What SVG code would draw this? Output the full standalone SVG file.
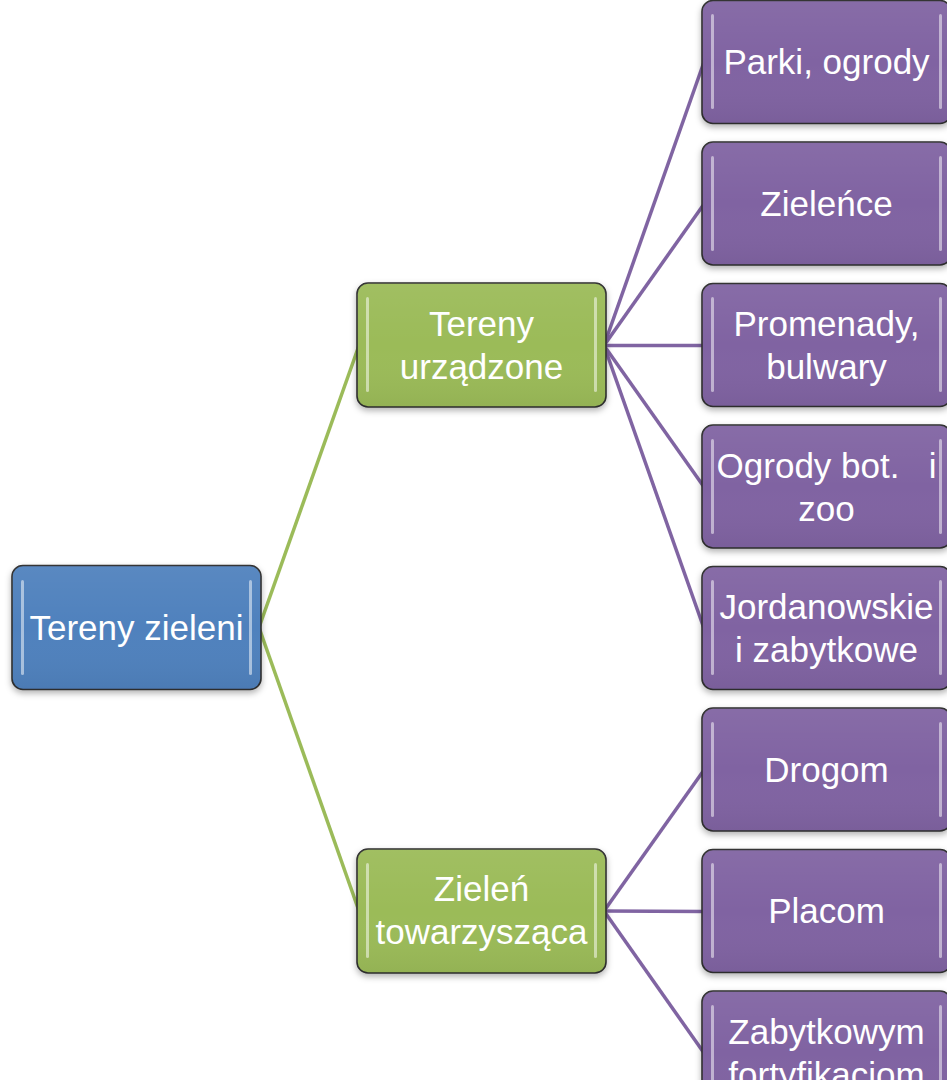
<svg xmlns="http://www.w3.org/2000/svg" width="947" height="1080" viewBox="0 0 947 1080">
<style>
.box{stroke:#2f2f2f;stroke-width:1.6}
.blue{fill:#4F81BD}
.green{fill:#9BBB59}
.purple{fill:#8064A2}
.hl{fill:#ffffff;opacity:0.5}
.t{font-family:"Liberation Sans",Arial,sans-serif;font-size:35px;fill:#ffffff;text-anchor:middle;white-space:pre}
.cg{stroke:#9BBB59;stroke-width:3.5;fill:none}
.cp{stroke:#8064A2;stroke-width:3.5;fill:none}
</style>
<defs>
<filter id="sh" x="-10%" y="-10%" width="120%" height="130%">
<feDropShadow dx="0" dy="3" stdDeviation="3" flood-color="#000" flood-opacity="0.3"/>
</filter>
<linearGradient id="gl" x1="0" y1="0" x2="0" y2="1">
<stop offset="0" stop-color="#fff" stop-opacity="0.06"/>
<stop offset="0.5" stop-color="#fff" stop-opacity="0"/>
<stop offset="1" stop-color="#000" stop-opacity="0.05"/>
</linearGradient>
</defs>
<rect width="947" height="1080" fill="#ffffff"/>
<g id="connectors">
<line class="cg" x1="259" y1="627.5" x2="359" y2="345.5"/>
<line class="cg" x1="259" y1="627.5" x2="359" y2="911"/>
<line class="cp" x1="604" y1="345.5" x2="704" y2="62"/>
<line class="cp" x1="604" y1="345.5" x2="704" y2="204"/>
<line class="cp" x1="604" y1="345.5" x2="704" y2="345.5"/>
<line class="cp" x1="604" y1="345.5" x2="704" y2="487"/>
<line class="cp" x1="604" y1="345.5" x2="704" y2="628.5"/>
<line class="cp" x1="604" y1="911" x2="704" y2="770"/>
<line class="cp" x1="604" y1="911" x2="704" y2="911.5"/>
<line class="cp" x1="604" y1="911" x2="704" y2="1053"/>
</g>
<g id="root">
<rect class="box blue" x="12" y="565.5" width="249" height="124" rx="11" filter="url(#sh)"/>
<rect x="12" y="565.5" width="249" height="124" rx="11" fill="url(#gl)"/>
<rect class="hl" x="21" y="580" width="3" height="95" rx="1.5"/>
<rect class="hl" x="249" y="580" width="3" height="95" rx="1.5"/>
<text class="t" x="136.5" y="640">Tereny zieleni</text>
</g>
<g id="n-urzadzone">
<rect class="box green" x="357" y="283" width="249" height="124" rx="11" filter="url(#sh)"/>
<rect x="357" y="283" width="249" height="124" rx="11" fill="url(#gl)"/>
<rect class="hl" x="366" y="297" width="3" height="95" rx="1.5"/>
<rect class="hl" x="594" y="297" width="3" height="95" rx="1.5"/>
<text class="t" x="481.5" y="336">Tereny</text>
<text class="t" x="481.5" y="379">urządzone</text>
</g>
<g id="n-towarzyszaca">
<rect class="box green" x="357" y="849" width="249" height="124" rx="11" filter="url(#sh)"/>
<rect x="357" y="849" width="249" height="124" rx="11" fill="url(#gl)"/>
<rect class="hl" x="366" y="863" width="3" height="95" rx="1.5"/>
<rect class="hl" x="594" y="863" width="3" height="95" rx="1.5"/>
<text class="t" x="481.5" y="901">Zieleń</text>
<text class="t" x="481.5" y="944">towarzysząca</text>
</g>
<g id="n-parki">
<rect class="box purple" x="702" y="0.5" width="249" height="123" rx="11" filter="url(#sh)"/>
<rect x="702" y="0.5" width="249" height="123" rx="11" fill="url(#gl)"/>
<rect class="hl" x="711" y="14" width="3" height="95" rx="1.5"/>
<rect class="hl" x="939" y="14" width="3" height="95" rx="1.5"/>
<text class="t" x="826.5" y="74">Parki, ogrody</text>
</g>
<g id="n-zielence">
<rect class="box purple" x="702" y="142" width="249" height="123" rx="11" filter="url(#sh)"/>
<rect x="702" y="142" width="249" height="123" rx="11" fill="url(#gl)"/>
<rect class="hl" x="711" y="156" width="3" height="95" rx="1.5"/>
<rect class="hl" x="939" y="156" width="3" height="95" rx="1.5"/>
<text class="t" x="826.5" y="216">Zieleńce</text>
</g>
<g id="n-promenady">
<rect class="box purple" x="702" y="283.5" width="249" height="123" rx="11" filter="url(#sh)"/>
<rect x="702" y="283.5" width="249" height="123" rx="11" fill="url(#gl)"/>
<rect class="hl" x="711" y="297" width="3" height="95" rx="1.5"/>
<rect class="hl" x="939" y="297" width="3" height="95" rx="1.5"/>
<text class="t" x="826.5" y="336">Promenady,</text>
<text class="t" x="826.5" y="379">bulwary</text>
</g>
<g id="n-ogrody">
<rect class="box purple" x="702" y="425" width="249" height="123" rx="11" filter="url(#sh)"/>
<rect x="702" y="425" width="249" height="123" rx="11" fill="url(#gl)"/>
<rect class="hl" x="711" y="439" width="3" height="95" rx="1.5"/>
<rect class="hl" x="939" y="439" width="3" height="95" rx="1.5"/>
<text class="t" x="826.5" y="478">Ogrody bot.   i</text>
<text class="t" x="826.5" y="521">zoo</text>
</g>
<g id="n-jordanowskie">
<rect class="box purple" x="702" y="566.5" width="249" height="123" rx="11" filter="url(#sh)"/>
<rect x="702" y="566.5" width="249" height="123" rx="11" fill="url(#gl)"/>
<rect class="hl" x="711" y="580" width="3" height="95" rx="1.5"/>
<rect class="hl" x="939" y="580" width="3" height="95" rx="1.5"/>
<text class="t" x="826.5" y="619">Jordanowskie</text>
<text class="t" x="826.5" y="662">i zabytkowe</text>
</g>
<g id="n-drogom">
<rect class="box purple" x="702" y="708" width="249" height="123" rx="11" filter="url(#sh)"/>
<rect x="702" y="708" width="249" height="123" rx="11" fill="url(#gl)"/>
<rect class="hl" x="711" y="722" width="3" height="95" rx="1.5"/>
<rect class="hl" x="939" y="722" width="3" height="95" rx="1.5"/>
<text class="t" x="826.5" y="782">Drogom</text>
</g>
<g id="n-placom">
<rect class="box purple" x="702" y="849.5" width="249" height="123" rx="11" filter="url(#sh)"/>
<rect x="702" y="849.5" width="249" height="123" rx="11" fill="url(#gl)"/>
<rect class="hl" x="711" y="863" width="3" height="95" rx="1.5"/>
<rect class="hl" x="939" y="863" width="3" height="95" rx="1.5"/>
<text class="t" x="826.5" y="923">Placom</text>
</g>
<g id="n-fortyfikacjom">
<rect class="box purple" x="702" y="991" width="249" height="123" rx="11" filter="url(#sh)"/>
<rect x="702" y="991" width="249" height="123" rx="11" fill="url(#gl)"/>
<rect class="hl" x="711" y="1005" width="3" height="95" rx="1.5"/>
<rect class="hl" x="939" y="1005" width="3" height="95" rx="1.5"/>
<text class="t" x="826.5" y="1044">Zabytkowym</text>
<text class="t" x="826.5" y="1087">fortyfikacjom</text>
</g>
</svg>
